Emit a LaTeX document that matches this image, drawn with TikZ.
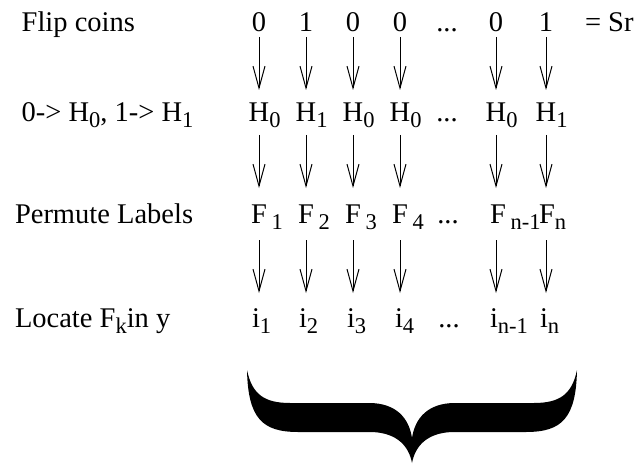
\documentclass[tikz,border=0pt]{standalone}
\usepackage{fontspec}
\setmainfont{Liberation Serif}
\usetikzlibrary{arrows.meta}
\newcommand\mysub[1]{\raisebox{-6pt}{\fontsize{22.5}{24}\selectfont #1}}
\begin{document}
\begin{tikzpicture}[x=1pt,y=-1pt,
  every node/.style={inner sep=0pt,outer sep=0pt,font=\fontsize{28.5}{32}\selectfont},
  cell/.style={anchor=base},
  lab/.style={anchor=base west},
  arr/.style={-{Straight Barb[length=22pt,width=12pt]},line width=1pt}]
\useasboundingbox (0,0) rectangle (636,465);
% left labels
\node[lab] (l1) at (21.7,32) {Flip coins};
\node[lab] (l2) at (21.7,122) {0-> H\mysub{0}, 1-> H\mysub{1}};
\node[lab] (l3) at (15,223) {Permute Labels};
\node[lab] (l4) at (15,327) {Locate F\mysub{k}in y};
% row a
\node[cell] (a1) at (259,32) {0};
\node[cell] (a2) at (306,32) {1};
\node[cell] (a3) at (353,32) {0};
\node[cell] (a4) at (400,32) {0};
\node[cell] (a5) at (447,32) {...};
\node[cell] (a6) at (496,32) {0};
\node[cell] (a7) at (546,32) {1};
\node[lab] (sr) at (585,32) {= Sr};
% row b
\node[cell] (b1) at (259,122) {H\rlap{\mysub{0}}};
\node[cell] (b2) at (306,122) {H\rlap{\mysub{1}}};
\node[cell] (b3) at (353,122) {H\rlap{\mysub{0}}};
\node[cell] (b4) at (400,122) {H\rlap{\mysub{0}}};
\node[cell] (b5) at (447,122) {...};
\node[cell] (b6) at (496,122) {H\rlap{\mysub{0}}};
\node[cell] (b7) at (546,122) {H\rlap{\mysub{1}}};
% row c
\node[cell] (c1) at (259,223) {F\rlap{\,\mysub{1}}};
\node[cell] (c2) at (306,223) {F\rlap{\,\mysub{2}}};
\node[cell] (c3) at (353,223) {F\rlap{\,\mysub{3}}};
\node[cell] (c4) at (400,223) {F\rlap{\,\mysub{4}}};
\node[cell] (c5) at (448,223) {...};
\node[cell] (c6) at (498,223) {F\rlap{\,\mysub{n-1}}};
\node[cell] (c7) at (547,223) {F\rlap{\mysub{n}}};
% row d
\node[cell] (d1) at (256,327) {i\rlap{\mysub{1}}};
\node[cell] (d2) at (303,327) {i\rlap{\mysub{2}}};
\node[cell] (d3) at (351,327) {i\rlap{\mysub{3}}};
\node[cell] (d4) at (399,327) {i\rlap{\mysub{4}}};
\node[cell] (d5) at (449,327) {...};
\node[cell] (d6) at (494,327) {i\rlap{\mysub{n-1}}};
\node[cell] (d7) at (544,327) {i\rlap{\mysub{n}}};
% arrows
\foreach \k in {1,2,3,4,6,7}{
  \draw[arr] ([yshift=-5pt]a\k.base -| b\k.base) -- ([yshift=32pt]b\k.base);
  \draw[arr] ([yshift=-13pt]b\k.base) -- ([yshift=35pt]c\k.base -| b\k.base);
  \draw[arr] ([yshift=-17pt]c\k.base -| b\k.base) -- ([yshift=34pt]d\k.base -| b\k.base);
}
% brace
\fill (247,370) .. controls (248,418) and (262,432) .. (298,432) -- (372,432)
  .. controls (398,433) and (409,447) .. (412,463)
  .. controls (415,447) and (426,433) .. (452,432) -- (526,432)
  .. controls (562,432) and (576,418) .. (577,370)
  .. controls (572,394) and (560,403) .. (534,403) -- (455,403)
  .. controls (428,403) and (415,418) .. (412,438)
  .. controls (409,418) and (396,403) .. (369,403) -- (290,403)
  .. controls (264,403) and (252,394) .. (247,370) -- cycle;
\end{tikzpicture}
\end{document}
